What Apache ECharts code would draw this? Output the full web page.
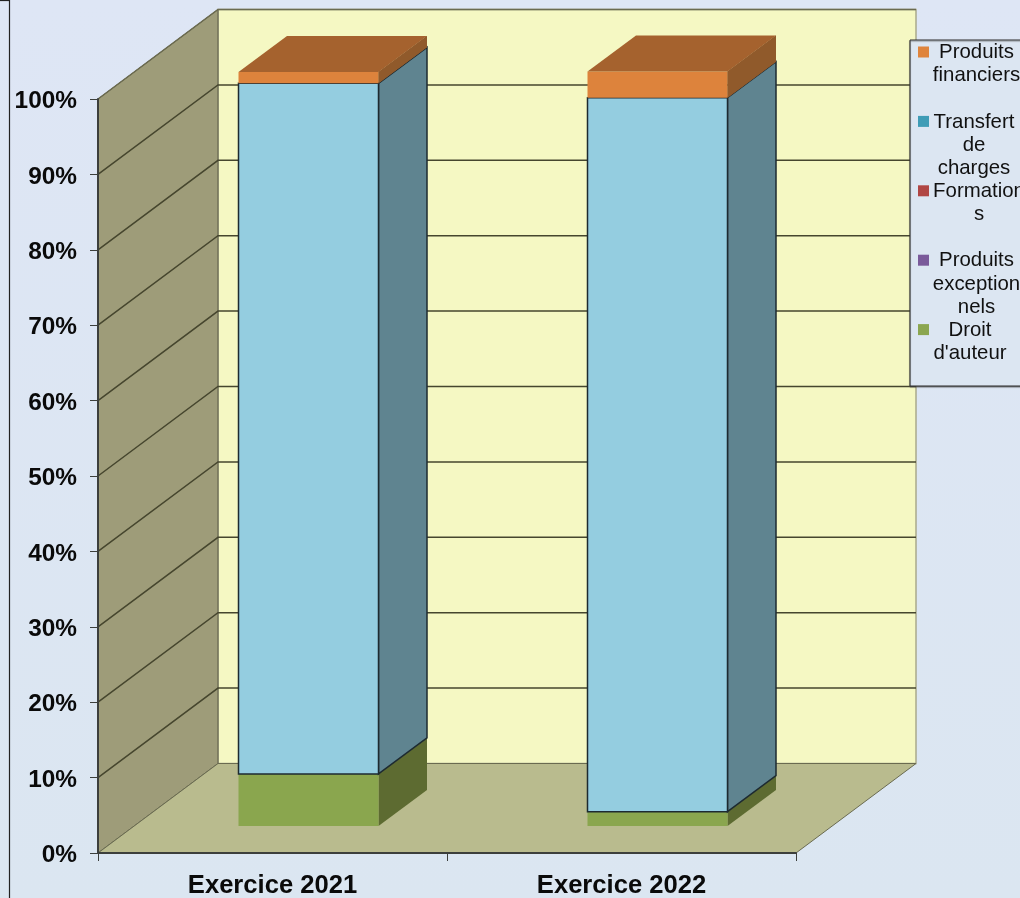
<!DOCTYPE html>
<html>
<head>
<meta charset="utf-8">
<script src="https://cdn.jsdelivr.net/npm/echarts@6/dist/echarts.min.js"></script>
<style>html,body{margin:0;padding:0;background:#dce6f2}#c{width:1020px;height:898px}</style>
</head>
<body>
<div id="c"></div>
<script>
var categories = ['Exercice 2021', 'Exercice 2022'];
var droitAuteur = [6.9, 1.9];
var produitsExceptionnels = [0, 0];
var formations = [0, 0];
var transfertCharges = [91.6, 94.7];
var produitsFinanciers = [1.5, 3.45];
var yTicks = [0, 10, 20, 30, 40, 50, 60, 70, 80, 90, 100];

var seriesNames = ["Droit d'auteur", 'Produits exceptionnels', 'Formations', 'Transfert de charges', 'Produits financiers'];
var seriesValues = [droitAuteur, produitsExceptionnels, formations, transfertCharges, produitsFinanciers];

var faces = [
  {front: '#8AA64E', side: '#5D6B31', top: '#6f8440'},
  {front: '#7A5A9A', side: '#544069', top: '#5f4679'},
  {front: '#B04644', side: '#7d3230', top: '#8c3836'},
  {front: '#94CDE0', side: '#5F8490', top: '#6f9aa8', stroke: '#1d2a30'},
  {front: '#DD833C', side: '#905A2B', top: '#A5622E'}
];

var legendLabels = ['Produits\nfinanciers', 'Transfert\nde\ncharges', 'Formation\ns', 'Produits\nexception\nnels', 'Droit\nd\'auteur'];
var legendColors = ['#DF843C', '#3F9CB6', '#B04644', '#7A5A9A', '#8BA650'];
var legendCenters = [976.5, 974, 979, 976.5, 970];

// oblique projection
var WALL = [120, -89.5], BAR_FRONT = [36, -27], BAR_DEPTH = [48.5, -36], BAR_W = 140;

function wallItem(params, api) {
  var cs = params.coordSys;
  var x0 = cs.x, x1 = cs.x + cs.width;
  var yAt = function (v) { return api.coord([0, v])[1]; };
  var b = yAt(0), t = yAt(100);
  var dx = WALL[0], dy = WALL[1];
  var kids = [
    {type: 'polygon', shape: {points: [[x0 + dx, t + dy], [x1 + dx, t + dy], [x1 + dx, b + dy], [x0 + dx, b + dy]]},
      style: {fill: '#F5F8C3', stroke: '#a9a98c', lineWidth: 1.5}},
    {type: 'polygon', shape: {points: [[x0, b], [x0, t], [x0 + dx, t + dy], [x0 + dx, b + dy]]},
      style: {fill: '#9E9C79', stroke: '#5b5b47', lineWidth: 1}},
    {type: 'polygon', shape: {points: [[x0, b], [x0 + dx, b + dy], [x1 + dx, b + dy], [x1, b]]},
      style: {fill: '#B9BB8E', stroke: '#6a6b50', lineWidth: 1}}
  ];
  yTicks.forEach(function (v) {
    if (v === 0) return;
    var y = yAt(v);
    kids.push({type: 'polyline', shape: {points: [[x0, y], [x0 + dx, y + dy], [x1 + dx, y + dy]]},
      style: {fill: 'none', stroke: v === 100 ? '#6b6b50' : '#46462e', lineWidth: 1.5}});
  });
  return {type: 'group', children: kids};
}

function barItem(params, api) {
  var f = faces[params.seriesIndex - 1];
  var p0 = api.coord([api.value(0), api.value(1)]);
  var p1 = api.coord([api.value(0), api.value(2)]);
  if (Math.abs(p0[1] - p1[1]) < 0.01) return null;
  var xl = p0[0] + BAR_FRONT[0] - BAR_W / 2, xr = xl + BAR_W;
  var yb = p0[1] + BAR_FRONT[1], yt = p1[1] + BAR_FRONT[1];
  var dx = BAR_DEPTH[0], dy = BAR_DEPTH[1];
  var s = f.stroke;
  var kids = [
    {type: 'polygon', shape: {points: [[xr, yb], [xr + dx, yb + dy], [xr + dx, yt + dy], [xr, yt]]},
      style: {fill: f.side, stroke: s || f.side, lineWidth: s ? 1.5 : 0}},
    {type: 'polygon', shape: {points: [[xl, yb], [xr, yb], [xr, yt], [xl, yt]]},
      style: {fill: f.front, stroke: s || f.front, lineWidth: s ? 1.5 : 0}}
  ];
  if (api.value(3)) {
    kids.push({type: 'polygon', shape: {points: [[xl, yt], [xr, yt], [xr + dx, yt + dy], [xl + dx, yt + dy]]},
      style: {fill: f.top}});
    kids.push({type: 'polygon', shape: {points: [[xr, yt], [xr + dx, yt + dy], [xr + dx, yb + dy], [xr, yb]]},
      style: {fill: f.side}});
  }
  return {type: 'group', children: kids};
}

var running = categories.map(function () { return 0; });
var barSeries = seriesNames.map(function (name, si) {
  var data = categories.map(function (c, ci) {
    var base = running[ci];
    var top = base + seriesValues[si][ci];
    running[ci] = top;
    return [ci, base, top, si === seriesNames.length - 1 ? 1 : 0];
  });
  return {
    name: name, type: 'custom', renderItem: barItem, data: data,
    encode: {x: 0, y: [1, 2]}, z: 3 + si, silent: true
  };
});

var legendTop = 52, legendStep = 69.4, lineH = 23.3;
var legendGraphics = [
  {type: 'rect', z: 20, shape: {x: 910, y: 40, width: 130, height: 346},
    style: {fill: '#DCE6F2', stroke: '#2e2e2e', lineWidth: 1, shadowColor: 'rgba(70,70,70,0.6)', shadowBlur: 1, shadowOffsetY: 1}}
];
legendLabels.forEach(function (t, i) {
  var y = legendTop + legendStep * i;
  legendGraphics.push({type: 'rect', z: 21, shape: {x: 918, y: y - 5.5, width: 11, height: 11}, style: {fill: legendColors[i]}});
  legendGraphics.push({type: 'text', z: 21, x: legendCenters[i], y: y - lineH / 2 + 0.5,
    style: {text: t, fill: '#111', font: '20.4px "Liberation Sans", Arial, sans-serif', align: 'center', verticalAlign: 'top', lineHeight: lineH}});
});

var chart = echarts.init(document.getElementById('c'), null, {renderer: 'canvas'});
chart.setOption({
  animation: false,
  backgroundColor: {type: 'linear', x: 0, y: 0, x2: 0, y2: 1,
    colorStops: [{offset: 0, color: '#DEE6F5'}, {offset: 1, color: '#DBE6F1'}]},
  grid: {left: 98, right: 224, top: 99, bottom: 45, outerBoundsMode: 'none'},
  xAxis: {
    type: 'category', data: categories, z: 10,
    axisLine: {lineStyle: {color: '#3c3f3c', width: 2}},
    axisTick: {show: true, length: 8, alignWithLabel: false, lineStyle: {color: '#3c3f3c', width: 1}},
    axisLabel: {color: '#0a0a0a', fontFamily: '"Liberation Sans", Arial, sans-serif', fontWeight: 'bold', fontSize: 25.6, margin: 20},
    splitLine: {show: false}
  },
  yAxis: {
    type: 'value', min: 0, max: 100, interval: 10, z: 10,
    axisLine: {show: true, lineStyle: {color: '#3c3f3c', width: 2}},
    axisTick: {show: true, length: 8, lineStyle: {color: '#3c3f3c', width: 1}},
    axisLabel: {color: '#0a0a0a', margin: 21, formatter: '{a|{value}%}',
      rich: {a: {color: '#0a0a0a', fontFamily: '"Liberation Sans", Arial, sans-serif', fontWeight: 'bold', fontSize: 24.4, padding: [5, 0, 0, 0]}}},
    splitLine: {show: false}
  },
  graphic: [
    {type: 'line', z: 30, shape: {x1: 9.5, y1: 0, x2: 9.5, y2: 898}, style: {stroke: '#222', lineWidth: 1.2}},
    {type: 'line', z: 30, shape: {x1: 0, y1: 0.5, x2: 9.5, y2: 0.5}, style: {stroke: '#222', lineWidth: 1.2}}
  ].concat(legendGraphics),
  series: [{type: 'custom', name: 'Parois', renderItem: wallItem, data: [[0, 0]], encode: {x: 0, y: 1}, z: 1, silent: true, clip: false}]
    .concat(barSeries)
});
</script>
</body>
</html>
